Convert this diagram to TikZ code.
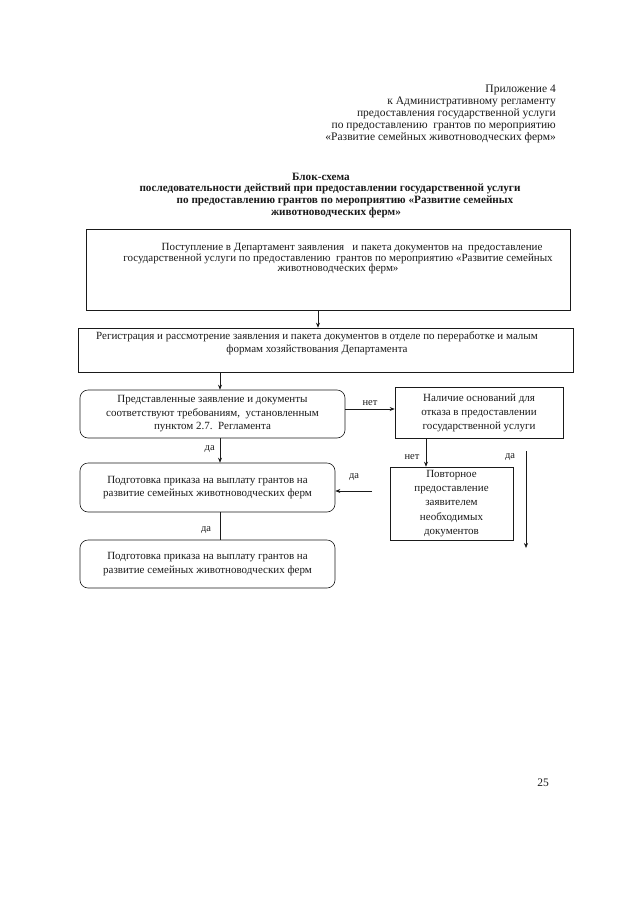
\documentclass[tikz,border=0pt]{standalone}
\usepackage{fontspec}
\setmainfont{Liberation Serif}
\usetikzlibrary{arrows.meta, positioning}
\definecolor{ink}{HTML}{1A1A1A}

\tikzset{
  blk/.style={draw=ink, line width=0.6pt, inner sep=0pt},
  rblk/.style={blk, rounded corners=8pt},
  txt/.style={font=\fontsize{11}{13.5}\selectfont, align=center, inner sep=0pt, text=ink},
  flow/.style={-{Stealth[length=5pt,width=4pt]}, draw=ink, line width=0.6pt},
  lbl/.style={font=\fontsize{10.5}{11}\selectfont, inner sep=0pt, text=ink},
  ttl/.style={txt, font=\fontsize{11.2}{12}\bfseries\selectfont},
}

\begin{document}
\begin{tikzpicture}[x=1pt, y=-1pt]
  \useasboundingbox (0,0) rectangle (640,905);

  % header
  \node[txt, align=right, anchor=north east, font=\fontsize{11.5}{12}\selectfont] (hdr) at (556,85)
    {Приложение 4\\к Административному регламенту\\предоставления государственной услуги\\по предоставлению\ \ грантов по мероприятию\\«Развитие семейных животноводческих ферм»};

  % title
  \node[ttl] (ttl1) at (321,177) {Блок-схема};
  \node[ttl] (ttl2) at (330,189) {последовательности действий при предоставлении государственной услуги};
  \node[ttl] (ttl3) at (345,201) {по предоставлению грантов по мероприятию «Развитие семейных};
  \node[ttl] (ttl4) at (336,213) {животноводческих ферм»};

  % boxes
  \node[blk, minimum width=484pt, minimum height=81pt] (in) at (328,269.5) {};
  \node[txt, font=\fontsize{11}{10.5}\selectfont] (in-t) at (338,259)
    {\hspace*{28pt}Поступление в Департамент заявления\ \ \ и пакета документов на\ \ предоставление\\государственной услуги по предоставлению\ \ грантов по мероприятию «Развитие семейных\\животноводческих ферм»};

  \node[blk, minimum width=495pt, minimum height=44pt] (reg) at (325.5,350) {};
  \node[txt, font=\fontsize{11}{13}\selectfont] (reg-t) at (317,343)
    {Регистрация и рассмотрение заявления и пакета документов в отделе по переработке и малым\\формам хозяйствования Департамента};

  \node[rblk, txt, draw=ink, minimum width=265pt, minimum height=48pt] (chk) at (212.5,414)
    {Представленные заявление и документы\\соответствуют требованиям,\ \ установленным\\пунктом 2.7.\ \ Регламента};

  \node[blk, txt, draw=ink, minimum width=168pt, minimum height=51pt, font=\fontsize{11}{14}\selectfont] (refuse) at (479,412.5)
    {Наличие оснований для\\отказа в предоставлении\\государственной услуги};

  \node[rblk, txt, draw=ink, minimum width=255pt, minimum height=49pt] (prep1) at (207.5,487.5)
    {Подготовка приказа на выплату грантов на\\развитие семейных животноводческих ферм};

  \node[blk, minimum width=123pt, minimum height=73pt] (again) at (451.5,503.5) {};
  \node[txt, font=\fontsize{11}{14.2}\selectfont] (again-t) at (451.5,503.5)
    {Повторное\\предоставление\\заявителем\\необходимых\\документов};

  \node[rblk, txt, draw=ink, minimum width=255pt, minimum height=48pt] (prep2) at (207.5,564)
    {Подготовка приказа на выплату грантов на\\развитие семейных животноводческих ферм};

  % helper coordinates for the connector lines
  \coordinate (c318) at (318,0);
  \coordinate (c220) at (220,0);
  \coordinate (c426) at (426,0);
  \coordinate (r409) at (0,409);
  \coordinate (r491) at (0,491);
  \coordinate (no-start) at (372,491);
  \coordinate (yes-top) at (526,451);
  \coordinate (yes-end) at (526,548);

  % connectors
  \draw[flow] (in.south -| c318) -- (reg.north -| c318);
  \draw[flow] (reg.south -| c220) -- (chk.north -| c220);
  \draw[flow] (chk.east |- r409) -- node[lbl, above=3pt] (no1) {нет} (refuse.west |- r409);
  \draw[flow] (chk.south -| c220) -- node[lbl, left=5pt, pos=0.45] (yes1) {да} (prep1.north -| c220);
  \draw[flow] (refuse.south -| c426) -- (again.north -| c426);
  \node[lbl] (no2) at (412,457) {нет};
  \draw[flow] (yes-top) -- (yes-end);
  \node[lbl] (yes2) at (510,457) {да};
  \draw[flow] (no-start) -- (prep1.east |- r491);
  \node[lbl] (yes3) at (354,477) {да};
  \draw[ink, line width=0.6pt] (prep1.south -| c220) -- (prep2.north -| c220);
  \node[lbl] (yes4) at (206,530) {да};

  % page number
  \node[lbl, font=\fontsize{11.5}{12}\selectfont] (page) at (543,783) {25};
\end{tikzpicture}
\end{document}
